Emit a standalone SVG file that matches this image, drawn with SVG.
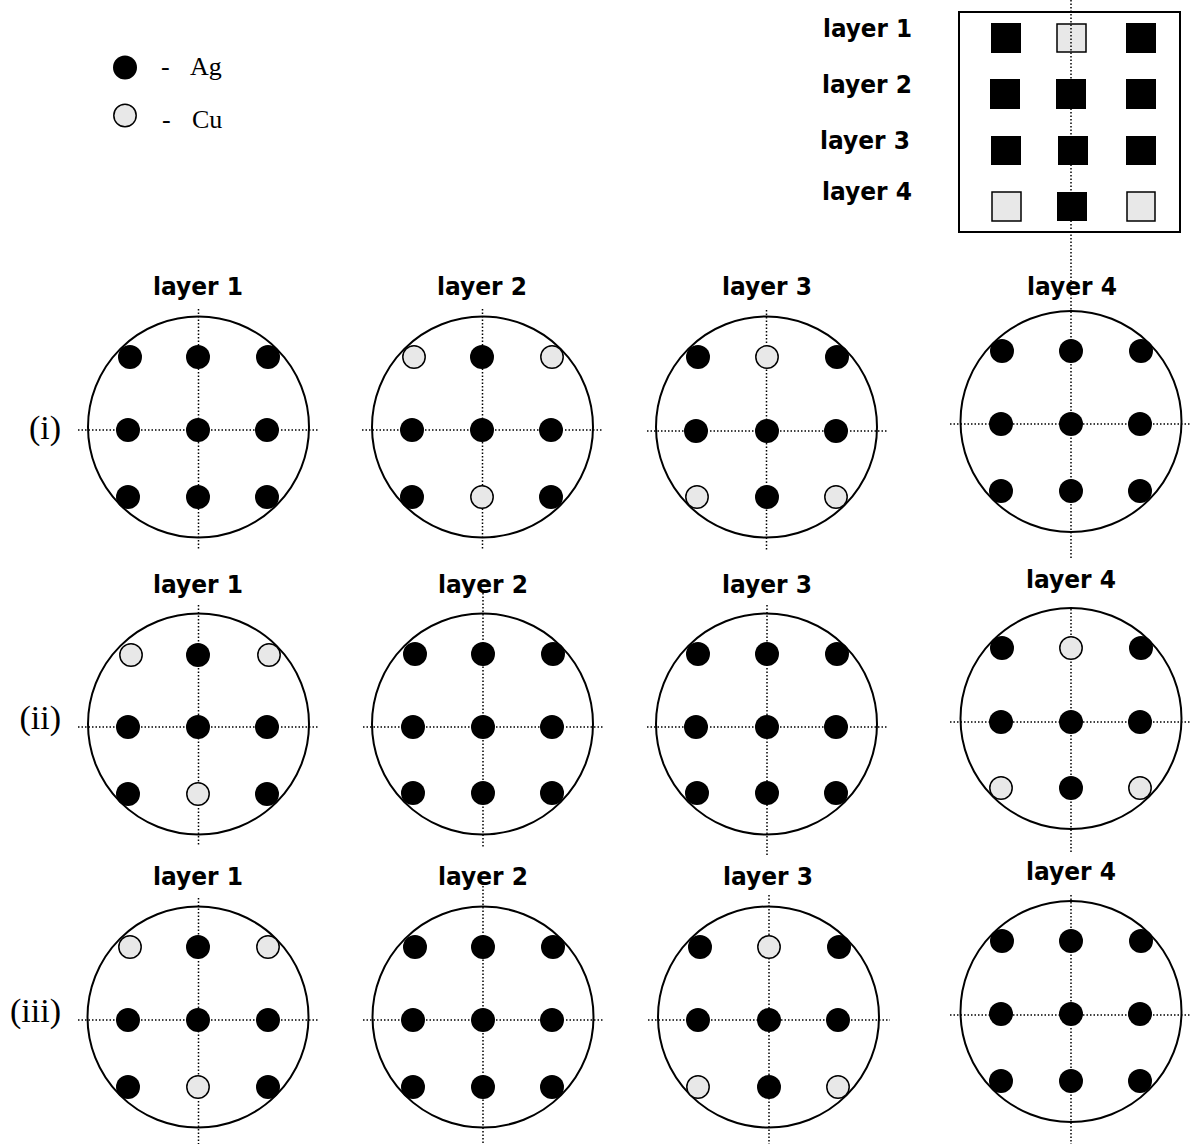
<svg xmlns="http://www.w3.org/2000/svg" width="1190" height="1144" viewBox="0 0 1190 1144">
<style>
.lbl{font-family:"DejaVu Sans","Liberation Sans",sans-serif;font-weight:bold;font-size:24px;fill:#000}
.ser{font-family:"Liberation Serif","Times New Roman",serif;fill:#000}
.ring{fill:none;stroke:#000;stroke-width:2}
.ag{fill:#000}
.cu{fill:#e8e8e8;stroke:#000;stroke-width:1.5}
.sq{fill:#000}
.sqc{fill:#e8e8e8;stroke:#000;stroke-width:1.5}
.ax{stroke:#000;stroke-width:1.5;stroke-dasharray:1.5 2;fill:none}
</style>
<defs>
<circle id="A" r="12" class="ag"/>
<circle id="C" r="11.2" class="cu"/>
</defs>
<rect width="1190" height="1144" fill="#fff"/>

<g id="legend">
<use href="#A" x="125" y="67.5"/>
<text class="ser" x="161" y="75" font-size="26">-</text>
<text class="ser" x="190" y="75" font-size="26">Ag</text>
<use href="#C" x="125" y="115.5"/>
<text class="ser" x="162" y="128" font-size="26">-</text>
<text class="ser" x="192" y="128" font-size="26">Cu</text>
</g>

<g id="stack">
<text class="lbl" x="823" y="37" textLength="89" lengthAdjust="spacingAndGlyphs">layer 1</text>
<text class="lbl" x="822" y="93" textLength="90" lengthAdjust="spacingAndGlyphs">layer 2</text>
<text class="lbl" x="820" y="149" textLength="90" lengthAdjust="spacingAndGlyphs">layer 3</text>
<text class="lbl" x="822" y="200" textLength="90" lengthAdjust="spacingAndGlyphs">layer 4</text>
<rect x="959" y="12" width="221" height="220" fill="none" stroke="#000" stroke-width="2"/>
<rect class="sq" x="991" y="23" width="30" height="30"/>
<rect class="sqc" x="1057" y="24" width="29" height="28"/>
<rect class="sq" x="1126" y="23" width="30" height="30"/>
<rect class="sq" x="990" y="79" width="30" height="30"/>
<rect class="sq" x="1056" y="79" width="30" height="30"/>
<rect class="sq" x="1126" y="79" width="30" height="30"/>
<rect class="sq" x="991" y="136" width="30" height="29"/>
<rect class="sq" x="1058" y="136" width="30" height="29"/>
<rect class="sq" x="1126" y="136" width="30" height="29"/>
<rect class="sqc" x="992" y="192" width="29" height="29"/>
<rect class="sq" x="1057" y="192" width="30" height="29"/>
<rect class="sqc" x="1127" y="192" width="28" height="29"/>
</g>

<g id="rowlabels">
<text class="ser" x="61" y="439" font-size="34" text-anchor="end">(i)</text>
<text class="ser" x="61" y="729" font-size="34" text-anchor="end">(ii)</text>
<text class="ser" x="61" y="1022" font-size="34" text-anchor="end">(iii)</text>
</g>

<g id="connectors">
<line class="ax" x1="78" y1="430" x2="319" y2="430"/>
<line class="ax" x1="198.5" y1="309" x2="198.5" y2="550"/>
<line class="ax" x1="362" y1="430" x2="603" y2="430"/>
<line class="ax" x1="482.5" y1="309" x2="482.5" y2="550"/>
<line class="ax" x1="647" y1="431" x2="887" y2="431"/>
<line class="ax" x1="766.5" y1="310" x2="766.5" y2="550"/>
<line class="ax" x1="950" y1="424" x2="1190" y2="424"/>
<line class="ax" x1="1071" y1="0" x2="1071" y2="558"/>
<line class="ax" x1="78" y1="727" x2="318" y2="727"/>
<line class="ax" x1="198.5" y1="605" x2="198.5" y2="845"/>
<line class="ax" x1="363" y1="727" x2="603" y2="727"/>
<line class="ax" x1="483" y1="593" x2="483" y2="848"/>
<line class="ax" x1="647" y1="727" x2="887" y2="727"/>
<line class="ax" x1="767" y1="605" x2="767" y2="855"/>
<line class="ax" x1="950" y1="722" x2="1190" y2="722"/>
<line class="ax" x1="1071" y1="609" x2="1071" y2="852"/>
<line class="ax" x1="78" y1="1020" x2="318" y2="1020"/>
<line class="ax" x1="198.5" y1="898" x2="198.5" y2="1144"/>
<line class="ax" x1="363" y1="1020" x2="603" y2="1020"/>
<line class="ax" x1="483" y1="886" x2="483" y2="1144"/>
<line class="ax" x1="648" y1="1020" x2="890" y2="1020"/>
<line class="ax" x1="769" y1="895" x2="769" y2="1144"/>
<line class="ax" x1="950" y1="1015" x2="1190" y2="1015"/>
<line class="ax" x1="1071" y1="895" x2="1071" y2="1144"/>
</g>

<g id="r1l1">
<text class="lbl" x="198" y="295" text-anchor="middle" textLength="90" lengthAdjust="spacingAndGlyphs">layer 1</text>
<circle class="ring" cx="198.5" cy="427" r="110.5"/>
<use href="#A" x="130" y="357"/><use href="#A" x="198" y="357"/><use href="#A" x="268" y="357"/>
<use href="#A" x="128" y="430"/><use href="#A" x="198" y="430"/><use href="#A" x="267" y="430"/>
<use href="#A" x="128" y="497"/><use href="#A" x="198" y="497"/><use href="#A" x="267" y="497"/>
</g>
<g id="r1l2">
<text class="lbl" x="482" y="295" text-anchor="middle" textLength="90" lengthAdjust="spacingAndGlyphs">layer 2</text>
<circle class="ring" cx="482.5" cy="427" r="110.5"/>
<use href="#C" x="414" y="357"/><use href="#A" x="482" y="357"/><use href="#C" x="552" y="357"/>
<use href="#A" x="412" y="430"/><use href="#A" x="482" y="430"/><use href="#A" x="551" y="430"/>
<use href="#A" x="412" y="497"/><use href="#C" x="482" y="497"/><use href="#A" x="551" y="497"/>
</g>
<g id="r1l3">
<text class="lbl" x="767" y="295" text-anchor="middle" textLength="90" lengthAdjust="spacingAndGlyphs">layer 3</text>
<circle class="ring" cx="766.5" cy="427" r="110.5"/>
<use href="#A" x="698" y="357"/><use href="#C" x="767" y="357"/><use href="#A" x="837" y="357"/>
<use href="#A" x="696" y="431"/><use href="#A" x="767" y="431"/><use href="#A" x="836" y="431"/>
<use href="#C" x="697" y="497"/><use href="#A" x="767" y="497"/><use href="#C" x="836" y="497"/>
</g>
<g id="r1l4">
<text class="lbl" x="1072" y="295" text-anchor="middle" textLength="90" lengthAdjust="spacingAndGlyphs">layer 4</text>
<circle class="ring" cx="1071" cy="421.5" r="110.5"/>
<use href="#A" x="1002" y="351"/><use href="#A" x="1071" y="351"/><use href="#A" x="1141" y="351"/>
<use href="#A" x="1001" y="424"/><use href="#A" x="1071" y="424"/><use href="#A" x="1140" y="424"/>
<use href="#A" x="1001" y="491"/><use href="#A" x="1071" y="491"/><use href="#A" x="1140" y="491"/>
</g>

<g id="r2l1">
<text class="lbl" x="198" y="593" text-anchor="middle" textLength="90" lengthAdjust="spacingAndGlyphs">layer 1</text>
<circle class="ring" cx="198.5" cy="724" r="110.5"/>
<use href="#C" x="131" y="655"/><use href="#A" x="198" y="655"/><use href="#C" x="269" y="655"/>
<use href="#A" x="128" y="727"/><use href="#A" x="198" y="727"/><use href="#A" x="267" y="727"/>
<use href="#A" x="128" y="794"/><use href="#C" x="198" y="794"/><use href="#A" x="267" y="794"/>
</g>
<g id="r2l2">
<text class="lbl" x="483" y="593" text-anchor="middle" textLength="90" lengthAdjust="spacingAndGlyphs">layer 2</text>
<circle class="ring" cx="482.5" cy="724" r="110.5"/>
<use href="#A" x="415" y="654"/><use href="#A" x="483" y="654"/><use href="#A" x="553" y="654"/>
<use href="#A" x="413" y="727"/><use href="#A" x="483" y="727"/><use href="#A" x="552" y="727"/>
<use href="#A" x="413" y="793"/><use href="#A" x="483" y="793"/><use href="#A" x="552" y="793"/>
</g>
<g id="r2l3">
<text class="lbl" x="767" y="593" text-anchor="middle" textLength="90" lengthAdjust="spacingAndGlyphs">layer 3</text>
<circle class="ring" cx="766.5" cy="724" r="110.5"/>
<use href="#A" x="698" y="654"/><use href="#A" x="767" y="654"/><use href="#A" x="837" y="654"/>
<use href="#A" x="696" y="727"/><use href="#A" x="767" y="727"/><use href="#A" x="836" y="727"/>
<use href="#A" x="697" y="793"/><use href="#A" x="767" y="793"/><use href="#A" x="836" y="793"/>
</g>
<g id="r2l4">
<text class="lbl" x="1071" y="588" text-anchor="middle" textLength="90" lengthAdjust="spacingAndGlyphs">layer 4</text>
<circle class="ring" cx="1071" cy="718.5" r="110.5"/>
<use href="#A" x="1002" y="648"/><use href="#C" x="1071" y="648"/><use href="#A" x="1141" y="648"/>
<use href="#A" x="1001" y="722"/><use href="#A" x="1071" y="722"/><use href="#A" x="1140" y="722"/>
<use href="#C" x="1001" y="788"/><use href="#A" x="1071" y="788"/><use href="#C" x="1140" y="788"/>
</g>

<g id="r3l1">
<text class="lbl" x="198" y="885" text-anchor="middle" textLength="90" lengthAdjust="spacingAndGlyphs">layer 1</text>
<circle class="ring" cx="198" cy="1017" r="110.5"/>
<use href="#C" x="130" y="947"/><use href="#A" x="198" y="947"/><use href="#C" x="268" y="947"/>
<use href="#A" x="128" y="1020"/><use href="#A" x="198" y="1020"/><use href="#A" x="268" y="1020"/>
<use href="#A" x="128" y="1087"/><use href="#C" x="198" y="1087"/><use href="#A" x="268" y="1087"/>
</g>
<g id="r3l2">
<text class="lbl" x="483" y="885" text-anchor="middle" textLength="90" lengthAdjust="spacingAndGlyphs">layer 2</text>
<circle class="ring" cx="483" cy="1017" r="110.5"/>
<use href="#A" x="415" y="947"/><use href="#A" x="483" y="947"/><use href="#A" x="553" y="947"/>
<use href="#A" x="413" y="1020"/><use href="#A" x="483" y="1020"/><use href="#A" x="552" y="1020"/>
<use href="#A" x="413" y="1087"/><use href="#A" x="483" y="1087"/><use href="#A" x="552" y="1087"/>
</g>
<g id="r3l3">
<text class="lbl" x="768" y="885" text-anchor="middle" textLength="90" lengthAdjust="spacingAndGlyphs">layer 3</text>
<circle class="ring" cx="768.5" cy="1017" r="110.5"/>
<use href="#A" x="700" y="947"/><use href="#C" x="769" y="947"/><use href="#A" x="839" y="947"/>
<use href="#A" x="698" y="1020"/><use href="#A" x="769" y="1020"/><use href="#A" x="838" y="1020"/>
<use href="#C" x="698" y="1087"/><use href="#A" x="769" y="1087"/><use href="#C" x="838" y="1087"/>
</g>
<g id="r3l4">
<text class="lbl" x="1071" y="880" text-anchor="middle" textLength="90" lengthAdjust="spacingAndGlyphs">layer 4</text>
<circle class="ring" cx="1071" cy="1011.5" r="110.5"/>
<use href="#A" x="1002" y="941"/><use href="#A" x="1071" y="941"/><use href="#A" x="1141" y="941"/>
<use href="#A" x="1001" y="1014"/><use href="#A" x="1071" y="1014"/><use href="#A" x="1140" y="1014"/>
<use href="#A" x="1001" y="1081"/><use href="#A" x="1071" y="1081"/><use href="#A" x="1140" y="1081"/>
</g>
</svg>
